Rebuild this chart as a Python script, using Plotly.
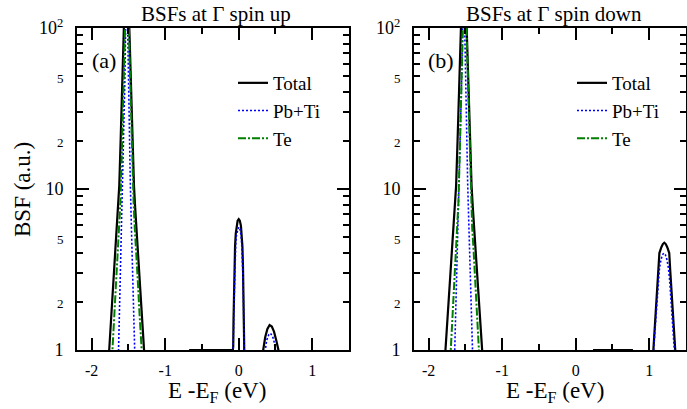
import plotly.graph_objects as go

# ---------------- data ----------------
# Panel (a): spin up
a_total_x = [-2.2, -1.785, -1.762, -1.735, -1.705, -1.68, -1.66, -1.64, -1.625, -1.605, -1.585, -1.57, -1.56,
             -1.545, -1.535, -1.525, -1.515, -1.505, -1.49, -1.48, -1.465, -1.445, -1.425, -1.41, -1.39,
             -1.37, -1.345, -1.315, -1.288, -1.265,
             -0.70, -0.66, -0.08,
             -0.075, -0.07, -0.065, -0.058, -0.05, -0.04, -0.03, -0.015, 0.0, 0.015, 0.03, 0.04, 0.05,
             0.058, 0.065, 0.07, 0.075, 0.08,
             0.30, 0.336, 0.36, 0.39, 0.42, 0.45, 0.48, 0.51, 0.54, 0.57, 1.5]
a_total_y = [0.5, 0.68, 1.0, 1.6, 2.6, 4.0, 5.6, 7.8, 10.5, 21, 42, 72, 100,
             180, 300, 400, 300, 180, 100, 72, 42, 21, 10.5, 7.8, 5.6,
             4.0, 2.6, 1.6, 1.0, 0.68,
             0.5, 1.0, 1.0,
             1.05, 1.6, 2.2, 3.3, 4.4, 5.3, 5.9, 6.35, 6.5, 6.35, 5.9, 5.3, 4.4,
             3.3, 2.2, 1.6, 1.05, 0.7,
             0.8, 1.0, 1.2, 1.35, 1.43, 1.40, 1.3, 1.15, 1.0, 0.8, 0.5]

a_pbti_x = [-2.2, -1.655, -1.635, -1.62, -1.605, -1.59, -1.575, -1.56, -1.55, -1.539, -1.532, -1.525,
            -1.518, -1.511, -1.50, -1.49, -1.475, -1.46, -1.445, -1.43, -1.415, -1.395,
            -0.10, -0.08, -0.075, -0.07, -0.065, -0.058, -0.05, -0.04, -0.03, -0.015, 0.0, 0.015, 0.03,
            0.04, 0.05, 0.058, 0.065, 0.07, 0.075, 0.08,
            0.34, 0.36, 0.38, 0.41, 0.43, 0.46, 0.48, 0.50, 0.52, 1.5]
a_pbti_y = [0.3, 0.45, 1.0, 1.85, 3.4, 5.8, 11, 25, 45, 100, 160, 220,
            160, 100, 45, 25, 11, 5.8, 3.4, 1.85, 1.0, 0.45,
            0.3, 0.65, 0.95, 1.4, 1.9, 2.8, 3.7, 4.6, 5.2, 5.65, 5.8, 5.65, 5.2,
            4.6, 3.7, 2.8, 1.9, 1.4, 0.95, 0.65,
            0.85, 1.0, 1.15, 1.25, 1.27, 1.22, 1.13, 1.0, 0.88, 0.3]

a_te_x = [-2.2, -1.74, -1.718, -1.69, -1.665, -1.645, -1.625, -1.61, -1.595, -1.58, -1.565, -1.55, -1.54,
          -1.53, -1.52, -1.51, -1.50, -1.49, -1.475, -1.46, -1.445, -1.43, -1.415, -1.395, -1.375,
          -1.35, -1.322, -1.30, 1.5]
a_te_y = [0.3, 0.7, 1.0, 1.7, 2.8, 4.2, 5.8, 8.2, 14, 25, 45, 80, 120,
          200, 280, 200, 120, 80, 45, 25, 14, 8.2, 5.8, 4.2, 2.8,
          1.7, 1.0, 0.7, 0.3]

# Panel (b): spin down
b_total_x = [-2.2, -1.795, -1.772, -1.743, -1.711, -1.685, -1.664, -1.643, -1.627, -1.606, -1.585, -1.569,
             -1.559, -1.543, -1.532, -1.522, -1.512, -1.501, -1.485, -1.475, -1.459, -1.438, -1.417,
             -1.401, -1.38, -1.359, -1.333, -1.301, -1.272, -1.249,
             0.21, 0.25, 0.764, 0.80,
             1.035, 1.057, 1.075, 1.09, 1.105, 1.115, 1.125, 1.138, 1.165, 1.185, 1.205, 1.225, 1.245,
             1.272, 1.285, 1.295, 1.305, 1.32, 1.335, 1.353, 1.375, 1.5]
b_total_y = [0.5, 0.68, 1.0, 1.6, 2.6, 4.0, 5.6, 7.8, 10.5, 21, 42, 72,
             100, 180, 300, 400, 300, 180, 100, 72, 42, 21, 10.5,
             7.8, 5.6, 4.0, 2.6, 1.6, 1.0, 0.68,
             0.5, 1.0, 1.0, 0.5,
             0.7, 1.0, 1.3, 1.6, 2.15, 2.65, 3.15, 4.0, 4.35, 4.55, 4.64, 4.55, 4.35,
             4.0, 3.15, 2.65, 2.15, 1.6, 1.3, 1.0, 0.7, 0.5]

b_pbti_x = [-2.2, -1.668, -1.646, -1.63, -1.613, -1.597, -1.58, -1.564, -1.553, -1.54, -1.533, -1.525,
            -1.517, -1.51, -1.497, -1.486, -1.47, -1.453, -1.437, -1.42, -1.404, -1.382,
            1.04, 1.058, 1.07, 1.085, 1.10, 1.11, 1.125, 1.14, 1.16, 1.18, 1.20, 1.22, 1.24, 1.26,
            1.275, 1.29, 1.30, 1.315, 1.33, 1.342, 1.36, 1.5]
b_pbti_y = [0.3, 0.45, 1.0, 1.85, 3.4, 5.8, 11, 25, 45, 100, 160, 220,
            160, 100, 45, 25, 11, 5.8, 3.4, 1.85, 1.0, 0.45,
            0.75, 1.0, 1.15, 1.45, 1.85, 2.2, 2.8, 3.25, 3.65, 3.9, 4.0, 3.9, 3.65, 3.25,
            2.8, 2.2, 1.85, 1.45, 1.15, 1.0, 0.75, 0.3]

b_te_x = [-2.2, -1.721, -1.70, -1.673, -1.649, -1.63, -1.611, -1.596, -1.582, -1.568, -1.553, -1.539, -1.529,
          -1.52, -1.51, -1.50, -1.491, -1.481, -1.467, -1.452, -1.438, -1.424, -1.409, -1.39, -1.371,
          -1.347, -1.32, -1.299, 1.5]
b_te_y = [0.3, 0.7, 1.0, 1.7, 2.8, 4.2, 5.8, 8.2, 14, 25, 45, 80, 120,
          200, 280, 200, 120, 80, 45, 25, 14, 8.2, 5.8, 4.2, 2.8,
          1.7, 1.0, 0.7, 0.3]

series_names = ["Total", "Pb+Ti", "Te"]
panel_titles = ["BSFs at \u0393 spin up", "BSFs at \u0393 spin down"]
panel_labels = ["(a)", "(b)"]

x_range = [-2.2, 1.5]
x_tickvals = [-2, -1, 0, 1]
x_ticktext = ["-2", "-1", "0", "1"]
y_range_decades = [0, 2]
y_tickvals = [1, 2, 5, 10, 20, 50, 100]
y_ticktext = ["1", "2", "5", "10", "2", "5", "10<sup>2</sup>"]
y_minorvals = [3, 4, 6, 7, 8, 9, 30, 40, 60, 70, 80, 90]
y_decades = [1, 10, 100]

# ---------------- figure ----------------
W, H = 687, 409
FONT = "Liberation Serif, Times New Roman, serif"
styles = [dict(color="black", width=2.2, dash="solid"),
          dict(color="#0000ff", width=1.6, dash="2px,2px"),
          dict(color="#008000", width=2.0, dash="8px,2px,2px,2px")]

fig = go.Figure()
panels = [((a_total_x, a_total_y), (a_pbti_x, a_pbti_y), (a_te_x, a_te_y)),
          ((b_total_x, b_total_y), (b_pbti_x, b_pbti_y), (b_te_x, b_te_y))]
for p, data in enumerate(panels):
    xa = "x" if p == 0 else "x2"
    ya = "y" if p == 0 else "y2"
    lg = "legend" if p == 0 else "legend2"
    for (xs, ys), name, st in zip(data, series_names, styles):
        fig.add_trace(go.Scatter(x=xs, y=ys, mode="lines", name=name, line=st,
                                 xaxis=xa, yaxis=ya, legend=lg, hoverinfo="skip"))
    # dummy trace on the overlay axis (long decade ticks)
    fig.add_trace(go.Scatter(x=[None], y=[None], xaxis=xa, yaxis="y3" if p == 0 else "y4",
                             showlegend=False, hoverinfo="skip"))

xdom = [[77 / W, 349 / W], [414 / W, 686 / W]]
ydom = [59 / H, 381 / H]

def small(t):
    return t if t in ("1", "10") or "sup" in t else f"<span style='font-size:13px'>{t}</span>"

xcommon = dict(range=x_range, tickmode="array", tickvals=x_tickvals, ticktext=x_ticktext,
               ticks="inside", ticklen=12, tickwidth=1.5, tickcolor="black",
               showline=True, linewidth=2, linecolor="black", mirror="ticks",
               showgrid=False, zeroline=False, tickfont=dict(size=16, family=FONT, color="black"),
               ticklabelstandoff=5, automargin=False,
               minor=dict(dtick=0.5, ticks="inside", ticklen=6, tickwidth=1.5, tickcolor="black",
                          showgrid=False))
ycommon = dict(type="log", range=y_range_decades, tickmode="array", tickvals=y_tickvals,
               ticktext=[small(t) for t in y_ticktext],
               ticks="inside", ticklen=6, tickwidth=1.5, tickcolor="black",
               showline=True, linewidth=2, linecolor="black", mirror="ticks",
               showgrid=False, zeroline=False, tickfont=dict(size=18, family=FONT, color="black"),
               ticklabelstandoff=8, automargin=False,
               minor=dict(tickmode="array", tickvals=y_minorvals, ticks="inside", ticklen=6,
                          tickwidth=1.5, tickcolor="black", showgrid=False))
yover = dict(type="log", range=y_range_decades, tickmode="array", tickvals=y_decades,
             ticks="inside", ticklen=12, tickwidth=1.5, tickcolor="black", automargin=False,
             showticklabels=False, showline=False, mirror="ticks", showgrid=False, zeroline=False)

leg = dict(xanchor="left", yanchor="top", bgcolor="rgba(0,0,0,0)", borderwidth=0,
           font=dict(size=19, family=FONT), tracegroupgap=0)
fig.update_layout(
    template="none",
    width=W, height=H, margin=dict(l=0, r=0, t=0, b=0, pad=0, autoexpand=False),
    paper_bgcolor="white", plot_bgcolor="white",
    font=dict(family=FONT, color="black"),
    xaxis=dict(domain=xdom[0], anchor="y", **xcommon),
    xaxis2=dict(domain=xdom[1], anchor="y2", **xcommon),
    yaxis=dict(domain=ydom, anchor="x", **ycommon),
    yaxis2=dict(domain=ydom, anchor="x2", **ycommon),
    yaxis3=dict(overlaying="y", anchor="x", side="left", **yover),
    yaxis4=dict(overlaying="y2", anchor="x2", side="left", **yover),
    legend=dict(x=233 / W, y=1 - 64 / H, **leg),
    legend2=dict(x=572 / W, y=1 - 64 / H, **leg),
    showlegend=True,
)

ann = []
for p in range(2):
    cx = [216, 554][p]
    ann.append(dict(text=panel_titles[p], x=cx / W, y=1 - 14 / H, xref="paper", yref="paper",
                    xanchor="center", yanchor="middle", showarrow=False,
                    font=dict(size=21, family=FONT)))
    ann.append(dict(text=panel_labels[p], x=[90, 426][p] / W, y=1 - 60 / H, xref="paper", yref="paper",
                    xanchor="left", yanchor="middle", showarrow=False,
                    font=dict(size=22, family=FONT)))
    ann.append(dict(text="E -E<sub>F</sub> (eV)", x=[217, 555][p] / W, y=1 - 392 / H,
                    xref="paper", yref="paper", xanchor="center", yanchor="middle",
                    showarrow=False, font=dict(size=23, family=FONT)))
ann.append(dict(text="BSF (a.u.)", x=22 / W, y=1 - 190 / H, xref="paper", yref="paper",
                xanchor="center", yanchor="middle", textangle=-90, showarrow=False,
                font=dict(size=23, family=FONT)))
fig.update_layout(annotations=ann)

fig.write_html("out.html", config={"displayModeBar": False},
               post_script="document.body.style.margin='0';")
